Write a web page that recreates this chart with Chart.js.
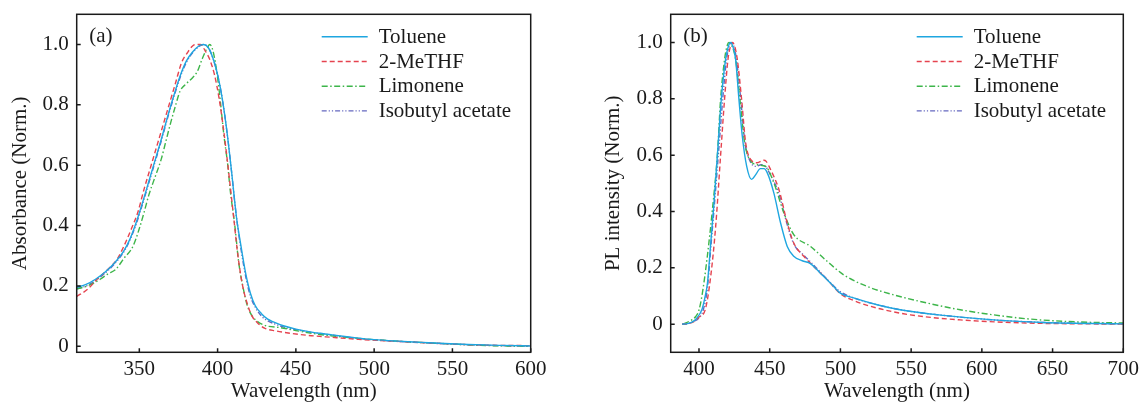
<!DOCTYPE html>
<html>
<head>
<meta charset="utf-8">
<script src="https://cdn.jsdelivr.net/npm/chart.js@4.4.0/dist/chart.umd.min.js"></script>
<style>
html, body { margin: 0; padding: 0; background: #fff; }
#wrap { position: relative; width: 1142px; height: 404px; }
.panel { position: absolute; top: 0; width: 571px; height: 404px; }
</style>
</head>
<body>
<div id="wrap">
  <div class="panel" style="left:0"><canvas id="absChart" width="571" height="404"></canvas></div>
  <div class="panel" style="left:571px"><canvas id="plChart" width="571" height="404"></canvas></div>
</div>
<script>
// solvent names, in legend order
const solvents = ["Toluene", "2-MeTHF", "Limonene", "Isobutyl acetate"];
const colors = ["#1ea6e0", "#e5434f", "#3db54a", "#6568c0"];

// tick labels
const absXTicks = [350, 400, 450, 500, 550, 600];
const absYTicks = [0, 0.2, 0.4, 0.6, 0.8, 1.0];
const plXTicks = [400, 450, 500, 550, 600, 650, 700];
const plYTicks = [0, 0.2, 0.4, 0.6, 0.8, 1.0];

// (a) absorbance
const absTolueneX = [310, 316, 322, 328, 334, 340, 344, 348, 352, 356, 360, 364, 368, 372, 376, 380, 384, 388, 391, 394, 397, 400, 403, 406, 409, 412, 415, 418, 421, 424, 428, 432, 436, 442, 450, 460, 470, 480, 490, 500, 515, 530, 545, 560, 580, 600];
const absTolueneY = [0.195, 0.205, 0.222, 0.245, 0.275, 0.315, 0.355, 0.41, 0.475, 0.545, 0.615, 0.685, 0.76, 0.83, 0.895, 0.945, 0.975, 0.995, 1.0, 0.99, 0.955, 0.9, 0.82, 0.71, 0.575, 0.43, 0.33, 0.24, 0.175, 0.135, 0.108, 0.09, 0.08, 0.068, 0.057, 0.047, 0.04, 0.033, 0.027, 0.022, 0.017, 0.013, 0.009, 0.006, 0.003, 0.001];

const absMethfX = [310, 317, 323, 330, 336, 340, 345, 349, 353, 357, 361, 365, 369, 373, 377, 381, 384, 386, 389, 392, 395, 398, 401, 404, 407, 410, 413, 416, 419, 422, 426, 430, 437, 448, 460, 472, 490, 504, 520, 536, 552, 568, 600];
const absMethfY = [0.165, 0.189, 0.222, 0.255, 0.29, 0.33, 0.39, 0.443, 0.52, 0.59, 0.66, 0.73, 0.8, 0.87, 0.94, 0.975, 0.995, 1.0, 1.0, 0.98, 0.95, 0.9, 0.82, 0.71, 0.58, 0.44, 0.3, 0.2, 0.14, 0.1, 0.075, 0.06, 0.051, 0.042, 0.035, 0.03, 0.023, 0.019, 0.015, 0.011, 0.007, 0.004, 0.002];

const absLimoneneX = [310, 317, 325, 330, 335, 340, 346, 350, 353, 356, 360, 364, 367, 370, 373, 376, 380, 384, 387, 390, 393, 395, 397, 400, 402, 404, 406.5, 408, 411, 413.5, 416.5, 419, 422, 426, 431, 440, 450, 460, 472, 485, 500, 518, 536, 552, 568, 585, 600];
const absLimoneneY = [0.19, 0.2, 0.222, 0.24, 0.255, 0.29, 0.332, 0.39, 0.443, 0.5, 0.56, 0.62, 0.68, 0.74, 0.795, 0.845, 0.87, 0.89, 0.91, 0.95, 0.985, 1.0, 0.98, 0.89, 0.8, 0.7, 0.6, 0.52, 0.4, 0.277, 0.189, 0.134, 0.101, 0.08, 0.068, 0.062, 0.052, 0.043, 0.035, 0.028, 0.022, 0.016, 0.011, 0.007, 0.003, 0.001, 0.0];

const absIsobutylX = [310, 316, 322, 328, 334, 340, 344, 348, 352, 356, 360, 364, 368, 372, 376, 380, 384, 388, 391, 394, 397, 400, 403, 406, 409, 412, 415, 418, 421, 424, 428, 432, 436, 442, 450, 460, 470, 480, 490, 500, 515, 530, 545, 560, 580, 600];
const absIsobutylY = [0.19, 0.2, 0.218, 0.242, 0.272, 0.312, 0.352, 0.405, 0.47, 0.54, 0.61, 0.68, 0.755, 0.825, 0.89, 0.94, 0.972, 0.993, 1.0, 0.99, 0.955, 0.9, 0.82, 0.71, 0.575, 0.43, 0.32, 0.23, 0.165, 0.13, 0.1, 0.084, 0.075, 0.064, 0.055, 0.046, 0.039, 0.032, 0.026, 0.021, 0.016, 0.012, 0.008, 0.005, 0.002, 0.0];

// (b) PL intensity
const plTolueneX = [388, 392, 396, 399, 402, 404, 406, 408.3, 410.6, 413, 415.8, 418.8, 421, 422.4, 424, 425.9, 428.2, 430.6, 433.7, 437.2, 440, 443.4, 446, 448.3, 452.9, 457.7, 462.4, 467, 473, 478.8, 485.8, 492.9, 499.9, 509.3, 525.9, 542.3, 572.9, 608.2, 643.5, 700];
const plTolueneY = [0.0, 0.002, 0.01, 0.025, 0.051, 0.09, 0.146, 0.288, 0.43, 0.6, 0.8, 0.94, 0.99, 1.0, 0.985, 0.94, 0.8, 0.668, 0.561, 0.514, 0.53, 0.552, 0.552, 0.537, 0.466, 0.359, 0.276, 0.241, 0.225, 0.215, 0.181, 0.146, 0.11, 0.093, 0.069, 0.051, 0.031, 0.015, 0.006, 0.001];

const plMethfX = [388, 392, 396, 400, 404.4, 408.3, 411.8, 415.3, 418.1, 420.5, 422.5, 423.6, 425, 427.1, 430.1, 433, 436.5, 441.2, 445.9, 447.5, 450.6, 456.5, 462.4, 467, 474.1, 481.1, 490.6, 500, 509.3, 525.9, 549.4, 584.7, 631.8, 700];
const plMethfY = [0.0, 0.002, 0.008, 0.025, 0.051, 0.17, 0.347, 0.6, 0.8, 0.94, 0.99, 1.0, 0.99, 0.94, 0.8, 0.644, 0.585, 0.573, 0.582, 0.578, 0.549, 0.478, 0.359, 0.288, 0.241, 0.205, 0.158, 0.108, 0.084, 0.057, 0.033, 0.015, 0.004, 0.0];

const plLimoneneX = [389, 393, 397.7, 400, 402.4, 405.9, 409.5, 413, 415.3, 418.1, 420, 421.2, 423, 425.9, 428.9, 432.3, 436.5, 442.3, 447.1, 452.9, 460, 467, 478.8, 490.6, 502.3, 518.8, 537.6, 561.2, 584.7, 608.2, 631.8, 667, 700];
const plLimoneneY = [0.0, 0.01, 0.027, 0.05, 0.11, 0.241, 0.407, 0.6, 0.8, 0.94, 0.99, 1.0, 0.99, 0.94, 0.8, 0.644, 0.58, 0.565, 0.56, 0.502, 0.395, 0.318, 0.276, 0.223, 0.175, 0.134, 0.104, 0.075, 0.051, 0.033, 0.019, 0.008, 0.004];

const plIsobutylX = [388, 392, 396, 400, 403, 406, 408.5, 411, 414, 416.8, 419.5, 421.5, 423, 424.5, 426.5, 429.5, 432.5, 436, 440, 444, 447, 450, 456, 462, 467, 474, 481, 490, 500, 509.3, 525.9, 542.3, 572.9, 608.2, 643.5, 700];
const plIsobutylY = [0.0, 0.002, 0.009, 0.022, 0.05, 0.13, 0.28, 0.43, 0.62, 0.8, 0.94, 0.99, 1.0, 0.99, 0.94, 0.8, 0.644, 0.58, 0.56, 0.566, 0.56, 0.535, 0.47, 0.36, 0.285, 0.245, 0.21, 0.162, 0.115, 0.093, 0.069, 0.051, 0.031, 0.015, 0.006, 0.001];

const dashes = [[], [5, 3], [6, 2.5, 1.5, 2.5], [5, 2, 1.2, 2, 1.2, 2]];
const FONT = { family: "'Liberation Serif', 'Times New Roman', serif", size: 21 };
const INK = "#1a1a1a";

function pts(xs, ys) {
  return xs.map(function (x, i) { return { x: x, y: ys[i] }; });
}

function makeDatasets(series) {
  return series.map(function (s, i) {
    return {
      label: solvents[i],
      data: pts(s[0], s[1]),
      borderColor: colors[i],
      backgroundColor: colors[i],
      borderWidth: 1.4,
      borderDash: dashes[i],
      pointRadius: 0,
      fill: false,
      cubicInterpolationMode: "monotone",
    };
  });
}

// box, inward ticks, panel letter and line legend
const framePlugin = {
  id: "frame",
  afterDatasetsDraw(chart, args, opts) {
    const ctx = chart.ctx;
    const a = chart.chartArea;
    const sx = chart.scales.x;
    const sy = chart.scales.y;
    ctx.save();
    ctx.strokeStyle = INK;
    ctx.lineWidth = 1.5;
    ctx.setLineDash([]);
    ctx.strokeRect(a.left, a.top, a.right - a.left, a.bottom - a.top);
    ctx.beginPath();
    sx.ticks.forEach(function (t) {
      const p = sx.getPixelForValue(t.value);
      ctx.moveTo(p, a.bottom);
      ctx.lineTo(p, a.bottom - 4);
    });
    sy.ticks.forEach(function (t) {
      const p = sy.getPixelForValue(t.value);
      ctx.moveTo(a.left, p);
      ctx.lineTo(a.left + 4, p);
    });
    ctx.stroke();

    ctx.fillStyle = INK;
    ctx.font = FONT.size + "px " + FONT.family;
    ctx.textBaseline = "alphabetic";
    ctx.textAlign = "left";
    ctx.fillText(opts.label, a.left + 12.5, a.top + 27.7);

    // legend
    ctx.textBaseline = "middle";
    chart.data.datasets.forEach(function (ds, i) {
      const x0 = a.left + opts.legendX;
      const y = a.top + 22.5 + i * 24.7;
      ctx.beginPath();
      ctx.strokeStyle = ds.borderColor;
      ctx.lineWidth = ds.borderWidth;
      ctx.setLineDash(ds.borderDash);
      ctx.moveTo(x0, y);
      ctx.lineTo(x0 + 46, y);
      ctx.stroke();
      ctx.fillStyle = INK;
      ctx.fillText(ds.label, x0 + 57, y + 0.5);
    });
    ctx.restore();
  },
};

function yLabel(v) {
  return v === 0 ? "0" : v.toFixed(1);
}

function makeChart(id, cfg) {
  return new Chart(document.getElementById(id), {
    type: "line",
    data: { datasets: makeDatasets(cfg.series) },
    plugins: [framePlugin],
    options: {
      responsive: false,
      animation: false,
      devicePixelRatio: 1,
      layout: { padding: { left: 0, right: cfg.padRight, top: 14.3, bottom: 0 } },
      plugins: {
        legend: { display: false },
        tooltip: { enabled: false },
        frame: { label: cfg.label, legendX: cfg.legendX },
      },
      scales: {
        x: {
          type: "linear",
          min: cfg.xMin,
          max: cfg.xMax,
          grid: { display: false, drawTicks: false },
          border: { display: false },
          afterBuildTicks: function (s) { s.ticks = cfg.xTicks.map(function (v) { return { value: v }; }); },
          afterFit: function (s) {
            s.height = 51.7;
            s.paddingLeft = 0;
            s.paddingRight = 0;
          },
          ticks: { padding: 5, color: INK, font: FONT, autoSkip: false, maxRotation: 0, callback: function (v) { return String(v); } },
          title: { display: true, text: "Wavelength (nm)", color: INK, font: FONT, padding: 0 },
        },
        y: {
          min: cfg.yMin,
          max: 1.1,
          grid: { display: false, drawTicks: false },
          border: { display: false },
          afterBuildTicks: function (s) { s.ticks = cfg.yTicks.map(function (v) { return { value: v }; }); },
          afterFit: function (s) {
            s.width = cfg.yWidth;
            s.paddingTop = 0;
            s.paddingBottom = 0;
          },
          ticks: { padding: 8, color: INK, font: FONT, callback: yLabel },
          title: { display: true, text: cfg.yTitle, color: INK, font: FONT, padding: { top: cfg.yTitlePad, bottom: 0 } },
        },
      },
    },
  });
}

makeChart("absChart", {
  series: [[absTolueneX, absTolueneY], [absMethfX, absMethfY], [absLimoneneX, absLimoneneY], [absIsobutylX, absIsobutylY]],
  xMin: 310, xMax: 600, yMin: -0.02,
  xTicks: absXTicks, yTicks: absYTicks,
  yWidth: 76.7, padRight: 40.3, yTitlePad: 7.4,
  yTitle: "Absorbance (Norm.)", label: "(a)", legendX: 245,
});

makeChart("plChart", {
  series: [[plTolueneX, plTolueneY], [plMethfX, plMethfY], [plLimoneneX, plLimoneneY], [plIsobutylX, plIsobutylY]],
  xMin: 380, xMax: 700, yMin: -0.1,
  xTicks: plXTicks, yTicks: plYTicks,
  yWidth: 99.7, padRight: 18.7, yTitlePad: 29.4,
  yTitle: "PL intensity (Norm.)", label: "(b)", legendX: 246,
});
</script>
</body>
</html>
